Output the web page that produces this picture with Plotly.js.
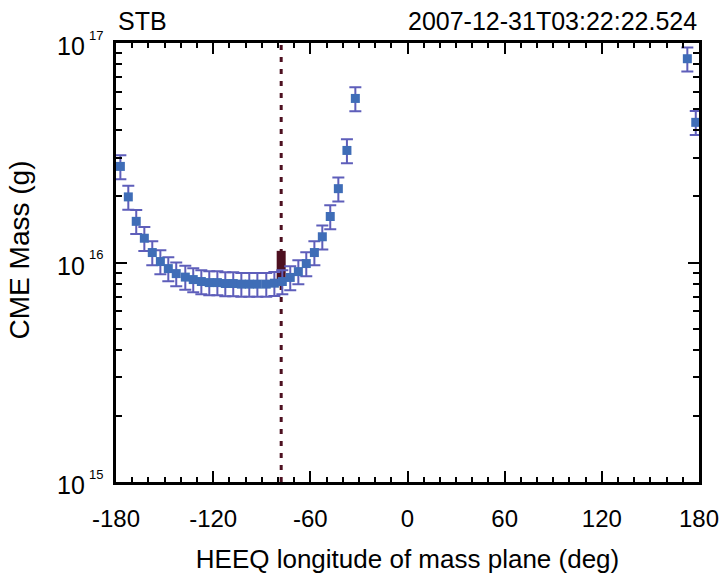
<!DOCTYPE html>
<html>
<head>
<meta charset="utf-8">
<script src="https://cdn.plot.ly/plotly-3.0.1.min.js"></script>
<style>html,body{margin:0;padding:0;background:#fff;}#chart{width:724px;height:576px;}</style>
</head>
<body>
<div id="chart"></div>
<script>
// HEEQ longitude of mass plane (deg)
const longitudes = [-177.3, -172.4, -167.5, -162.5, -157.6, -152.6, -147.7, -142.8, -137.2, -132.3,
  -127.3, -122.4, -117.4, -112.5, -107.6, -102.6, -97.7, -92.7, -87.2, -82.2,
  -77.3, -72.4, -67.4, -62.5, -57.5, -52.6, -47.7, -42.7, -37.4, -32.2,
  172.8, 178.0];
// CME mass (g)
const masses = [2.74e16, 1.99e16, 1.54e16, 1.29e16, 1.11e16, 1.01e16, 9.38e15, 8.90e15, 8.58e15, 8.36e15,
  8.19e15, 8.10e15, 8.10e15, 8.02e15, 8.02e15, 7.97e15, 7.97e15, 7.97e15, 7.97e15, 8.05e15,
  8.19e15, 8.55e15, 9.09e15, 9.89e15, 1.11e16, 1.31e16, 1.62e16, 2.17e16, 3.24e16, 5.59e16,
  8.48e16, 4.35e16];
const massErrorPercent = 12.5;
// selected plane longitude and mass range
const selLon = -78.0;
const selMassRange = [8.19e15, 1.13e16];
const xTicks = [-180, -120, -60, 0, 60, 120, 180];
const yTickExponents = [15, 16, 17];
const leftLabel = 'STB';
const rightLabel = '2007-12-31T03:22:22.524';

const FONT = 'Liberation Sans, Arial, Helvetica, sans-serif';
const errColor = '#5e5eba';
const markColor = '#3f6db7';
const selColor = '#4d1020';

const traces = [
  {
    x: [selLon, selLon], y: selMassRange, mode: 'lines', type: 'scatter',
    line: {color: selColor, width: 9}, hoverinfo: 'skip', showlegend: false, cliponaxis: false
  },
  {
    x: longitudes, y: masses, mode: 'markers', type: 'scatter',
    marker: {symbol: 'square', size: 9, color: markColor},
    error_y: {type: 'percent', value: massErrorPercent, color: errColor, thickness: 2, width: 6},
    showlegend: false, cliponaxis: false
  }
];

const axisCommon = {
  showline: true, linecolor: '#000', linewidth: 3, mirror: 'allticks',
  ticks: 'inside', tickcolor: '#000', tickwidth: 2, ticklen: 11,
  showgrid: false, zeroline: false,
  tickfont: {family: FONT, size: 24, color: '#000'}
};

// y tick labels: base "10" plus a small exponent, placed at each decade
const yLabelAnns = [];
yTickExponents.forEach(function (e) {
  yLabelAnns.push({text: '10', xref: 'paper', yref: 'y', x: 0, y: e, xanchor: 'right', yanchor: 'middle',
    xshift: -29, yshift: -3, showarrow: false, font: {family: FONT, size: 25, color: '#000'}});
  yLabelAnns.push({text: String(e), xref: 'paper', yref: 'y', x: 0, y: e, xanchor: 'left', yanchor: 'middle',
    xshift: -29, yshift: 8, showarrow: false, font: {family: FONT, size: 13, color: '#000'}});
});

const layout = {
  width: 724, height: 576,
  margin: {l: 116, r: 25, t: 43, b: 94},
  paper_bgcolor: '#fff', plot_bgcolor: '#fff',
  showlegend: false,
  xaxis: Object.assign({}, axisCommon, {
    range: [-180, 180], tickmode: 'array', tickvals: xTicks, ticktext: xTicks.map(String),
    minor: {dtick: 10, ticks: 'inside', ticklen: 5, tickwidth: 2, tickcolor: '#000'},
    ticklabelstandoff: 13,
    title: {text: 'HEEQ longitude of mass plane (deg)', font: {family: FONT, size: 26, color: '#000'}, standoff: 20}
  }),
  yaxis: Object.assign({}, axisCommon, {
    type: 'log', range: [15, 17], tickmode: 'array', tickvals: yTickExponents.map(function (e) { return Math.pow(10, e); }),
    showticklabels: false,
    minor: {dtick: 'D1', ticks: 'inside', ticklen: 6, tickwidth: 2, tickcolor: '#000'}
  }),
  shapes: [{
    type: 'line', xref: 'x', yref: 'paper', x0: selLon, x1: selLon, y0: 0, y1: 1,
    line: {color: selColor, width: 3, dash: '5px,7px'}, layer: 'below'
  }],
  annotations: [
    {text: leftLabel, xref: 'paper', yref: 'paper', x: 0, y: 1, xanchor: 'left', yanchor: 'bottom',
     yshift: 6, showarrow: false, font: {family: FONT, size: 25, color: '#000'}},
    {text: rightLabel, xref: 'paper', yref: 'paper', x: 1, y: 1, xanchor: 'right', yanchor: 'bottom',
     yshift: 6, showarrow: false, font: {family: FONT, size: 25, color: '#000'}},
    {text: 'CME Mass (g)', xref: 'paper', yref: 'paper', x: -0.166, y: 0.528, xanchor: 'center', yanchor: 'middle',
     textangle: -90, showarrow: false, font: {family: FONT, size: 28, color: '#000'}}
  ].concat(yLabelAnns)
};

Plotly.newPlot('chart', traces, layout, {displayModeBar: false, staticPlot: true});
</script>
</body>
</html>
